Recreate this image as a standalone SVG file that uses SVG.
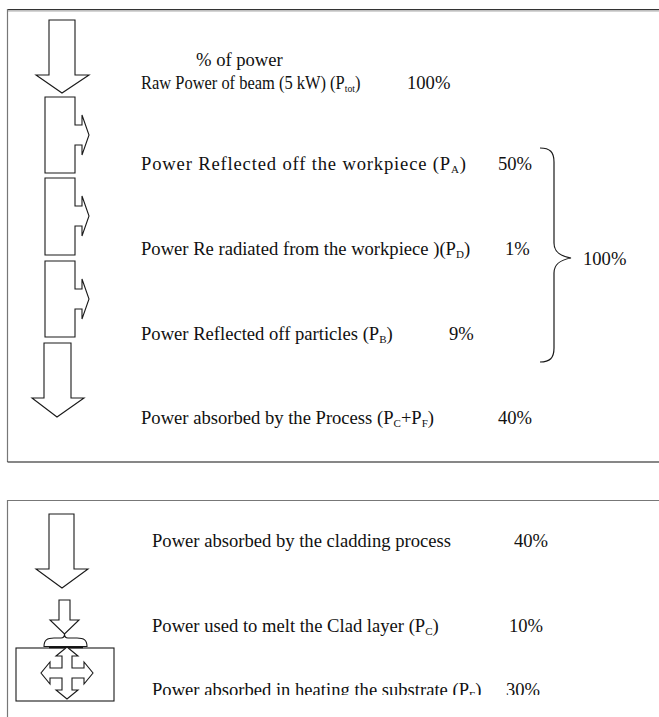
<svg xmlns="http://www.w3.org/2000/svg" width="659" height="717" viewBox="0 0 659 717">
<style>
.sh{fill:#fff;stroke:#1a1a1a;stroke-width:1.1}
.t{font-family:"Liberation Serif","Times New Roman",serif;font-size:18.6px;fill:#111}
.s{font-size:11px}
.fr{stroke-width:1.2;fill:none}
</style>
<defs>
<clipPath id="clipLast"><rect x="0" y="600" width="659" height="95"/></clipPath>
</defs>
<rect width="659" height="717" fill="#fff"/>
<g id="frames">
<line class="fr" x1="7.5" y1="9.5" x2="659" y2="9.5" stroke="#333"/>
<line class="fr" x1="8" y1="10.8" x2="659" y2="10.8" stroke="#aaa"/>
<line class="fr" x1="7.5" y1="9" x2="7.5" y2="462" stroke="#777"/>
<line class="fr" x1="7.5" y1="462" x2="659" y2="462" stroke="#111"/>
<line class="fr" x1="7.5" y1="500.5" x2="659" y2="500.5" stroke="#777"/>
<line class="fr" x1="7.5" y1="500" x2="7.5" y2="717" stroke="#777"/>
</g>
<g id="connectors">
<path d="M540,148 C550,148 554,152 554,162 L554,243 C554,252 560,256 571,258 C560,260 554,264 554,273 L554,348 C554,358 550,362 540,362" fill="none" stroke="#1a1a1a" stroke-width="1.2"/>
</g>
<g id="raw-beam">
<polygon class="sh" points="49,20 75,20 75,75 89,75 62,93 36,75 49,75"/>
</g>
<g id="reflected-workpiece">
<path class="sh" d="M45,97 H75 V125 H82 V115 L89,135 L82,155 V145 H75 V173 H45 Z"/>
</g>
<g id="reradiated">
<path class="sh" d="M45,178 H75 V206 H82 V196 L89,216 L82,236 V226 H75 V255 H45 Z"/>
</g>
<g id="reflected-particles">
<path class="sh" d="M45,261 H75 V289 H82 V279 L89,299 L82,319 V309 H75 V337 H45 Z"/>
</g>
<g id="absorbed-process">
<polygon class="sh" points="44,343 71,343 71,398 84,398 57,417 32,398 44,398"/>
</g>
<g id="absorbed-cladding">
<polygon class="sh" points="49,514 74,514 74,569 88,569 62,588 36,569 49,569"/>
</g>
<g id="melt-clad">
<polygon class="sh" points="59,600 70,600 70,620 79,620 64.5,634 50,620 59,620"/>
<path class="sh" d="M44,646.5 C44,640 47,638 54,638 L61,638 Q64.5,638 64.5,634 Q64.5,638 68,638 L77,638 C84,638 87,640 87,646.5 Z"/>
</g>
<g id="substrate">
<rect class="sh" x="16" y="648" width="98" height="53"/>
<line x1="49" y1="647.5" x2="83" y2="647.5" stroke="#111" stroke-width="1.5"/>
<polygon class="sh" points="67,647 78,656 72,656 72,668 84,668 84,662 93,673 84,684 84,678 72,678 72,690 78,690 67,699 56,690 62,690 62,678 50,678 50,684 41,673 50,662 50,668 62,668 62,656 56,656"/>
</g>
<g id="labels">
<text class="t" x="196" y="66">% of power</text>
<text class="t" transform="translate(141,89) scale(0.885,1)" x="0" y="0">Raw Power of beam (5 kW) (P<tspan class="s" dy="3">tot</tspan><tspan dy="-3">)</tspan></text>
<text class="t" x="407" y="89">100%</text>
<text class="t" x="141" y="170" textLength="325" lengthAdjust="spacing">Power Reflected off the workpiece (P<tspan class="s" dy="3">A</tspan><tspan dy="-3">)</tspan></text>
<text class="t" x="498" y="170">50%</text>
<text class="t" x="141" y="255">Power Re radiated from the workpiece )(P<tspan class="s" dy="3">D</tspan><tspan dy="-3">)</tspan></text>
<text class="t" x="505" y="255">1%</text>
<text class="t" x="583" y="265">100%</text>
<text class="t" x="141" y="340">Power Reflected off particles (P<tspan class="s" dy="3">B</tspan><tspan dy="-3">)</tspan></text>
<text class="t" x="449" y="340">9%</text>
<text class="t" x="141" y="424">Power absorbed by the Process (P<tspan class="s" dy="3">C</tspan><tspan dy="-3">+P</tspan><tspan class="s" dy="3">F</tspan><tspan dy="-3">)</tspan></text>
<text class="t" x="498" y="424">40%</text>
<text class="t" x="152" y="547">Power absorbed by the cladding process</text>
<text class="t" x="514" y="547">40%</text>
<text class="t" x="152" y="632">Power used to melt the Clad layer (P<tspan class="s" dy="3">C</tspan><tspan dy="-3">)</tspan></text>
<text class="t" x="509" y="632">10%</text>
<g clip-path="url(#clipLast)">
<text class="t" x="152" y="696">Power absorbed in heating the substrate (P<tspan class="s" dy="3">F</tspan><tspan dy="-3">)</tspan></text>
<text class="t" x="506" y="696">30%</text>
</g>
</g>
</svg>
